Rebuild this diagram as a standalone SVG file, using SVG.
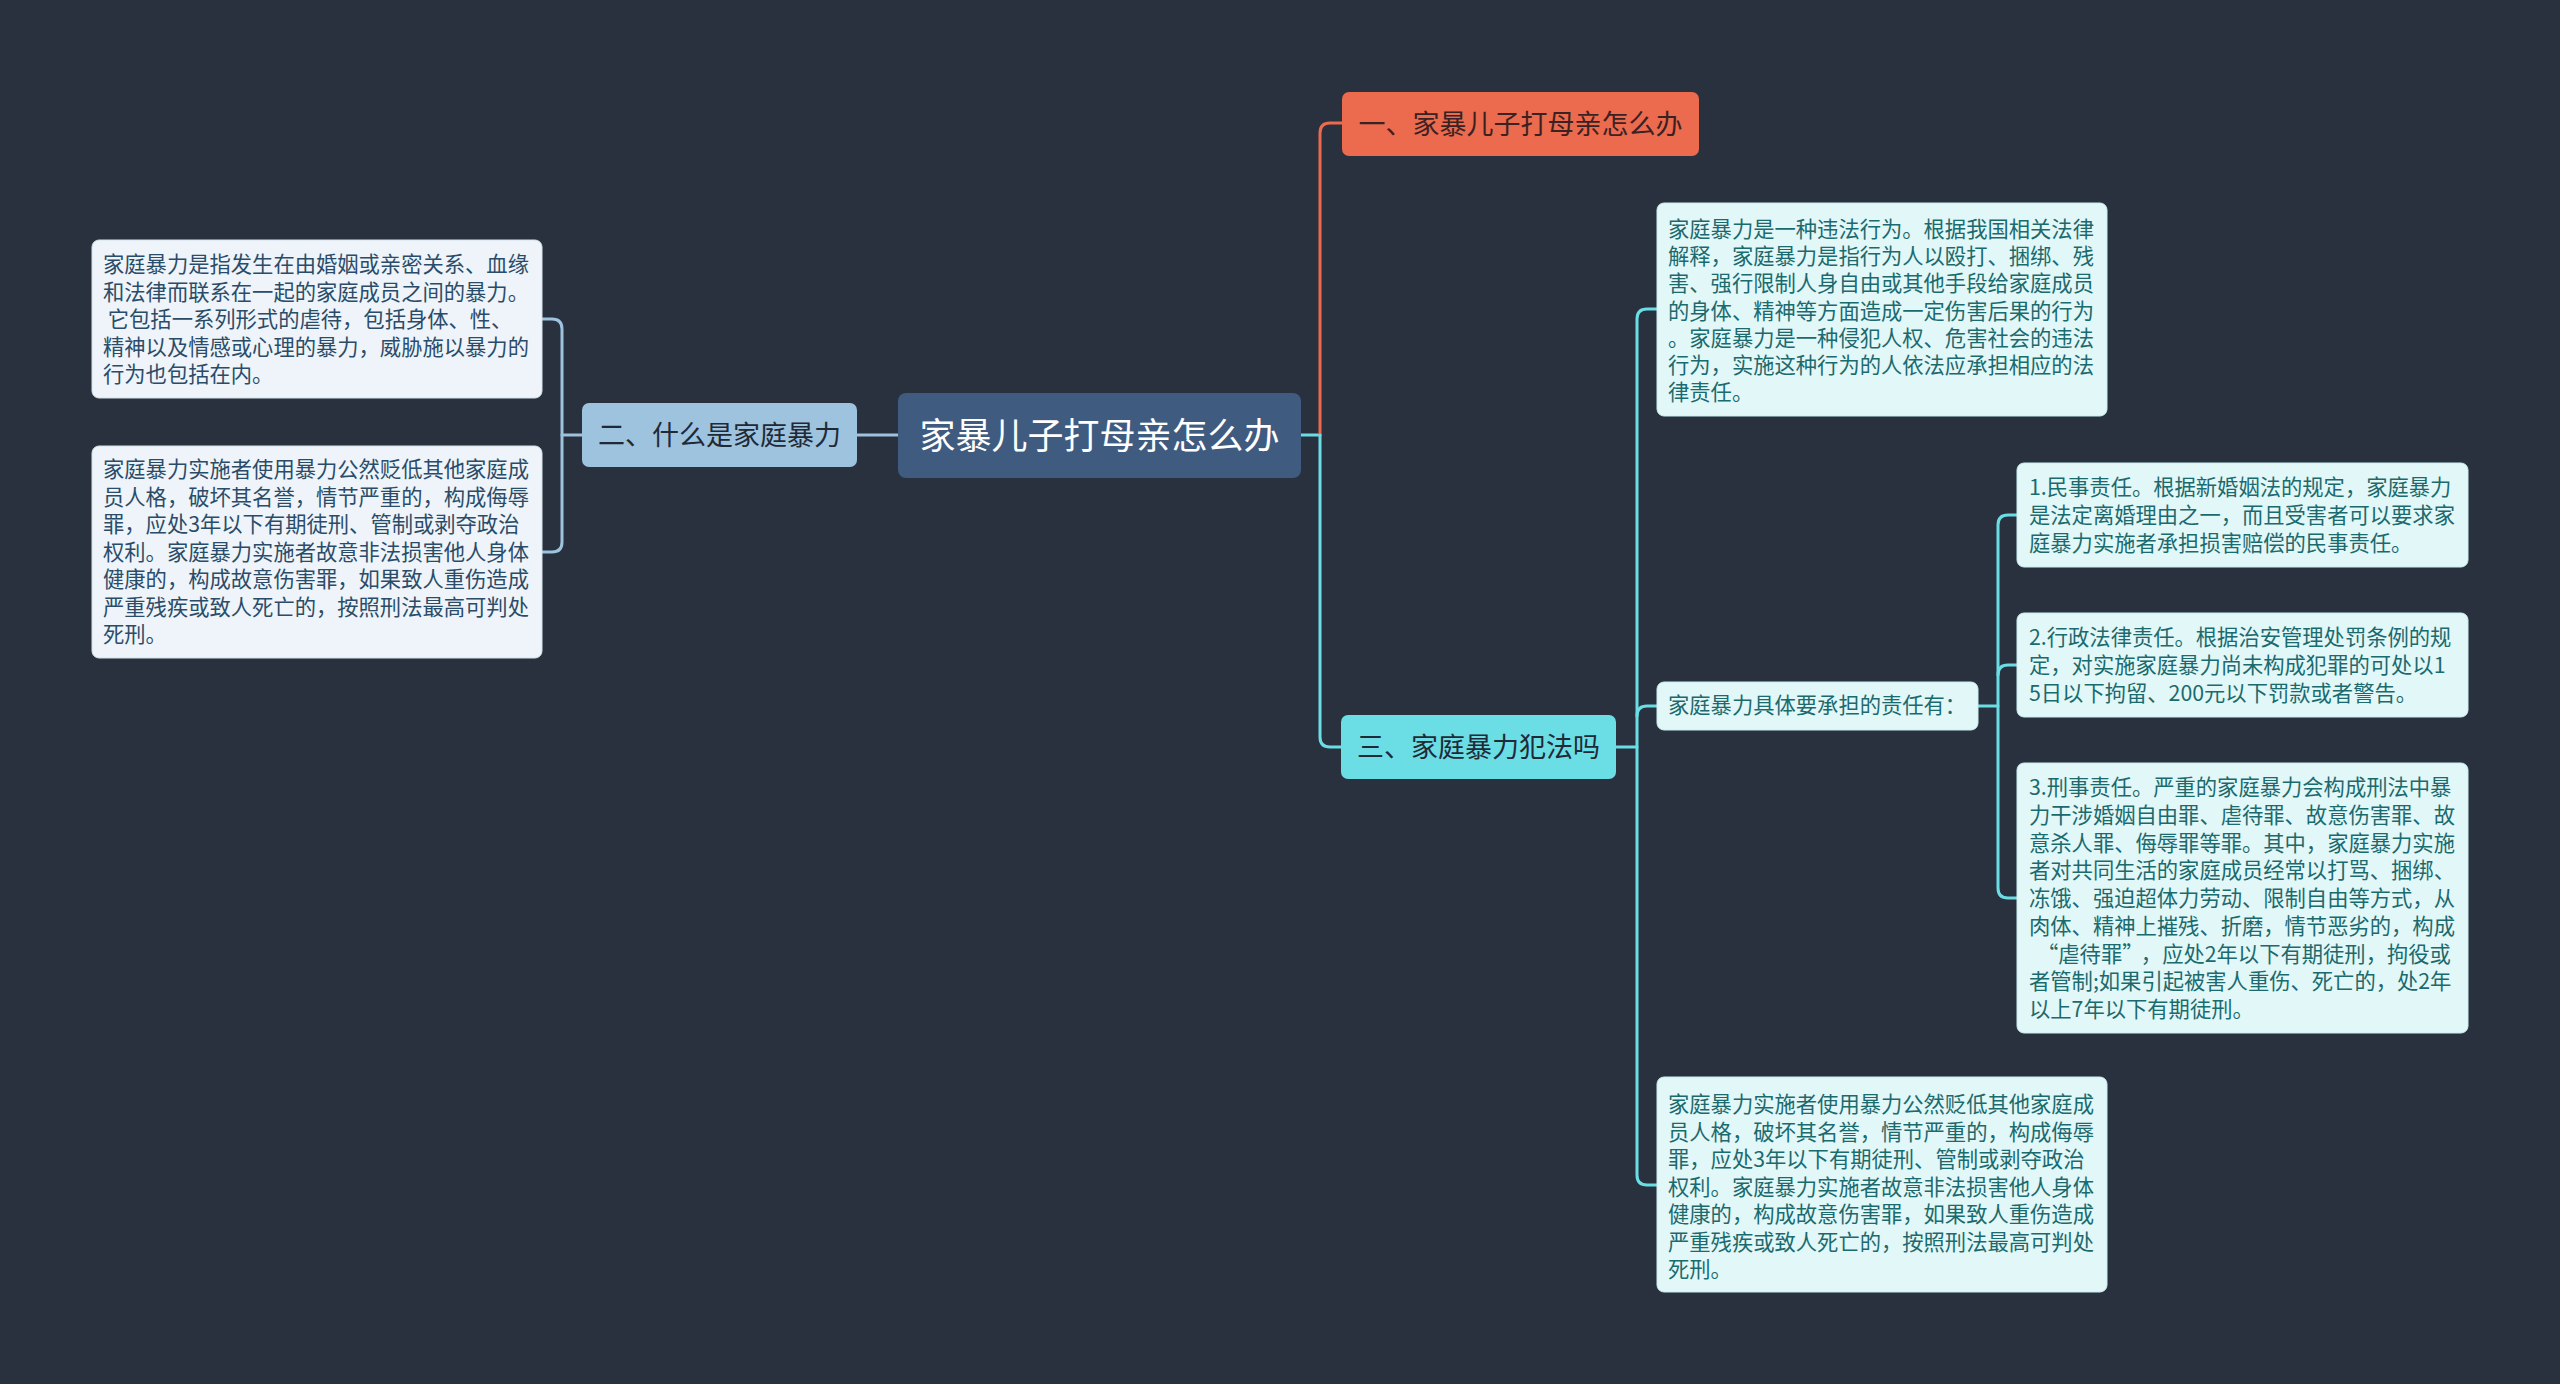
<svg xmlns="http://www.w3.org/2000/svg" width="2560" height="1384" viewBox="0 0 2560 1384">
<defs>
<style>
.bg{fill:#29313f}
text{font-family:"Noto Sans CJK SC","Noto Sans",sans-serif}
.ctr{text-anchor:middle;dominant-baseline:central;transform:translateY(-2px)}
.lb{fill:#eef4f9;stroke:#d5e1ea;stroke-width:1}
.rb{fill:#e2f7f8;stroke:#c9eef0;stroke-width:1}
.lt{font-size:21.3px;fill:#2b4c69;dominant-baseline:central;transform:translateY(-3px)}
.rt{font-size:21.3px;fill:#1b6a6e;dominant-baseline:central;transform:translateY(-3px)}
.cl{fill:none;stroke:#9dc3de;stroke-width:3;stroke-linecap:round}
.co{fill:none;stroke:#ec6a4d;stroke-width:3;stroke-linecap:round}
.cc{fill:none;stroke:#6bdde4;stroke-width:3;stroke-linecap:round}
</style>
</defs>
<rect class="bg" x="0" y="0" width="2560" height="1384"/>

<g id="connectors">
<path class="cl" d="M898,435 H857"/>
<path class="cl" d="M582,435 H562"/>
<path class="cl" d="M542,319 H552 Q562,319 562,329 V542 Q562,552 552,552 H542"/>
<path class="cc" d="M1301,435 H1320"/>
<path class="co" d="M1320,435 V133 Q1320,123 1330,123 H1342"/>
<path class="cc" d="M1320,435 V737 Q1320,747 1330,747 H1341"/>
<path class="cc" d="M1616,747 H1637"/>
<path class="cc" d="M1657,309 H1647 Q1637,309 1637,319 V1175 Q1637,1185 1647,1185 H1657"/>
<path class="cc" d="M1637,716 Q1637,706 1647,706 H1657"/>
<path class="cc" d="M1978,706 H1998"/>
<path class="cc" d="M2017,515 H2008 Q1998,515 1998,525 V888 Q1998,898 2008,898 H2017"/>
<path class="cc" d="M1998,675 Q1998,665 2008,665 H2017"/>
</g>

<g id="root">
<rect x="898" y="393" width="403" height="85" rx="8" fill="#3f5b7f"/>
<text class="ctr" x="1099.5" y="435" font-size="36" fill="#ffffff">家暴儿子打母亲怎么办</text>
</g>

<g id="n1">
<rect x="1342" y="92" width="357" height="64" rx="7" fill="#ec6a4d"/>
<text class="ctr" x="1520.5" y="124" font-size="27" fill="#3b2222">一、家暴儿子打母亲怎么办</text>
</g>

<g id="n2">
<rect x="582" y="403" width="275" height="64" rx="7" fill="#9dc3de"/>
<text class="ctr" x="719.5" y="435" font-size="27" fill="#1f2a36">二、什么是家庭暴力</text>
</g>

<g id="n3">
<rect x="1341" y="715" width="275" height="64" rx="7" fill="#6bdde4"/>
<text class="ctr" x="1478.5" y="747" font-size="27" fill="#1f2a36">三、家庭暴力犯法吗</text>
</g>

<g id="l1">
<rect class="lb" x="92" y="240" width="450" height="158" rx="7"/>
<text class="lt" xml:space="preserve"><tspan x="103" y="265">家庭暴力是指发生在由婚姻或亲密关系、血缘</tspan><tspan x="103" y="292.5">和法律而联系在一起的家庭成员之间的暴力。</tspan><tspan x="103" y="320"> 它包括一系列形式的虐待，包括身体、性、</tspan><tspan x="103" y="347.5">精神以及情感或心理的暴力，威胁施以暴力的</tspan><tspan x="103" y="375">行为也包括在内。</tspan></text>
</g>

<g id="l2">
<rect class="lb" x="92" y="446" width="450" height="212" rx="7"/>
<text class="lt"><tspan x="103" y="470">家庭暴力实施者使用暴力公然贬低其他家庭成</tspan><tspan x="103" y="497.5">员人格，破坏其名誉，情节严重的，构成侮辱</tspan><tspan x="103" y="525">罪，应处3年以下有期徒刑、管制或剥夺政治</tspan><tspan x="103" y="552.5">权利。家庭暴力实施者故意非法损害他人身体</tspan><tspan x="103" y="580">健康的，构成故意伤害罪，如果致人重伤造成</tspan><tspan x="103" y="607.5">严重残疾或致人死亡的，按照刑法最高可判处</tspan><tspan x="103" y="635">死刑。</tspan></text>
</g>

<g id="r1">
<rect class="rb" x="1657" y="203" width="450" height="213" rx="7"/>
<text class="rt"><tspan x="1668" y="230">家庭暴力是一种违法行为。根据我国相关法律</tspan><tspan x="1668" y="257.2">解释，家庭暴力是指行为人以殴打、捆绑、残</tspan><tspan x="1668" y="284.4">害、强行限制人身自由或其他手段给家庭成员</tspan><tspan x="1668" y="311.6">的身体、精神等方面造成一定伤害后果的行为</tspan><tspan x="1668" y="338.8">。家庭暴力是一种侵犯人权、危害社会的违法</tspan><tspan x="1668" y="366">行为，实施这种行为的人依法应承担相应的法</tspan><tspan x="1668" y="393.2">律责任。</tspan></text>
</g>

<g id="r2">
<rect class="rb" x="1657" y="682" width="321" height="48" rx="7"/>
<text class="rt" x="1668" y="706">家庭暴力具体要承担的责任有：</text>
</g>

<g id="r2a">
<rect class="rb" x="2017" y="463" width="451" height="104" rx="7"/>
<text class="rt"><tspan x="2029" y="488">1.民事责任。根据新婚姻法的规定，家庭暴力</tspan><tspan x="2029" y="516">是法定离婚理由之一，而且受害者可以要求家</tspan><tspan x="2029" y="544">庭暴力实施者承担损害赔偿的民事责任。</tspan></text>
</g>

<g id="r2b">
<rect class="rb" x="2017" y="613" width="451" height="104" rx="7"/>
<text class="rt"><tspan x="2029" y="638">2.行政法律责任。根据治安管理处罚条例的规</tspan><tspan x="2029" y="666">定，对实施家庭暴力尚未构成犯罪的可处以1</tspan><tspan x="2029" y="694">5日以下拘留、200元以下罚款或者警告。</tspan></text>
</g>

<g id="r2c">
<rect class="rb" x="2017" y="763" width="451" height="270" rx="7"/>
<text class="rt"><tspan x="2029" y="788">3.刑事责任。严重的家庭暴力会构成刑法中暴</tspan><tspan x="2029" y="815.75">力干涉婚姻自由罪、虐待罪、故意伤害罪、故</tspan><tspan x="2029" y="843.5">意杀人罪、侮辱罪等罪。其中，家庭暴力实施</tspan><tspan x="2029" y="871.25">者对共同生活的家庭成员经常以打骂、捆绑、</tspan><tspan x="2029" y="899">冻饿、强迫超体力劳动、限制自由等方式，从</tspan><tspan x="2029" y="926.75">肉体、精神上摧残、折磨，情节恶劣的，构成</tspan><tspan x="2037" y="954.5">“虐待罪”</tspan><tspan dx="8">，应处2年以下有期徒刑，拘役或</tspan><tspan x="2029" y="982.25">者管制;如果引起被害人重伤、死亡的，处2年</tspan><tspan x="2029" y="1010">以上7年以下有期徒刑。</tspan></text>
</g>

<g id="r3">
<rect class="rb" x="1657" y="1077" width="450" height="215" rx="7"/>
<text class="rt"><tspan x="1668" y="1105">家庭暴力实施者使用暴力公然贬低其他家庭成</tspan><tspan x="1668" y="1132.5">员人格，破坏其名誉，情节严重的，构成侮辱</tspan><tspan x="1668" y="1160">罪，应处3年以下有期徒刑、管制或剥夺政治</tspan><tspan x="1668" y="1187.5">权利。家庭暴力实施者故意非法损害他人身体</tspan><tspan x="1668" y="1215">健康的，构成故意伤害罪，如果致人重伤造成</tspan><tspan x="1668" y="1242.5">严重残疾或致人死亡的，按照刑法最高可判处</tspan><tspan x="1668" y="1270">死刑。</tspan></text>
</g>
</svg>
